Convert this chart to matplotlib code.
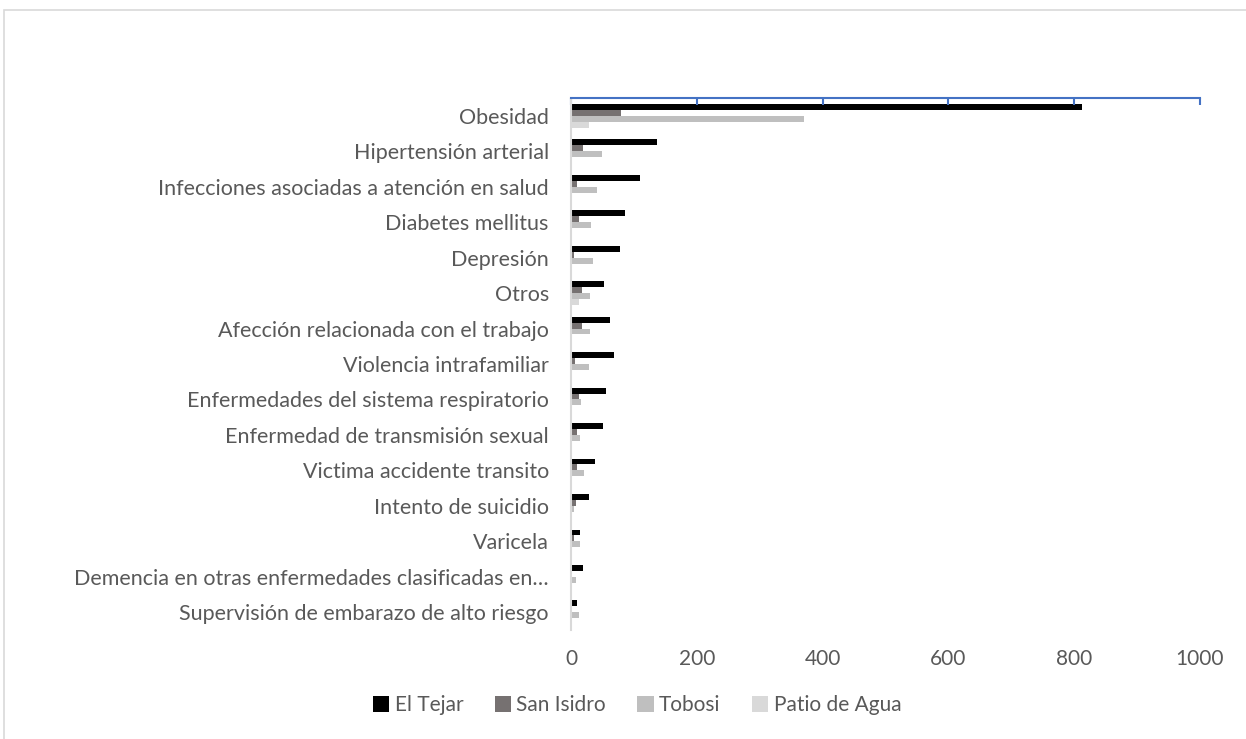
import matplotlib.pyplot as plt
import numpy as np
from matplotlib.patches import Rectangle

plt.rcParams['font.family'] = ['Lato', 'DejaVu Sans']

categorias = ['Obesidad', 'Hipertensión arterial', 'Infecciones asociadas a atención en salud',
              'Diabetes mellitus', 'Depresión', 'Otros', 'Afección relacionada con el trabajo',
              'Violencia intrafamiliar', 'Enfermedades del sistema respiratorio',
              'Enfermedad de transmisión sexual', 'Victima accidente transito',
              'Intento de suicidio', 'Varicela',
              'Demencia en otras enfermedades clasificadas en…',
              'Supervisión de embarazo de alto riesgo']

el_tejar = [813, 136, 110, 86, 78, 52, 62, 69, 55, 51, 38, 29, 14, 19, 9]
san_isidro = [80, 19, 10, 12, 5, 18, 18, 6, 13, 10, 9, 8, 4, 0, 2]
tobosi = [371, 50, 42, 32, 35, 30, 31, 29, 16, 15, 21, 5, 15, 8, 12]
patio_agua = [29, 0, 0, 0, 1, 12, 0, 0, 0, 0, 0, 0, 0, 0, 0]

series = [('El Tejar', el_tejar, '#000000'),
          ('San Isidro', san_isidro, '#767171'),
          ('Tobosi', tobosi, '#BFBFBF'),
          ('Patio de Agua', patio_agua, '#D9D9D9')]

gris_texto = '#595959'

fig = plt.figure(figsize=(12.46, 7.39), dpi=100)
ax = fig.add_axes([571/1246, 1-630/739, 629/1246, 532/739])

# borde del grafico
fig.patches.append(Rectangle((4/1246, -0.01), 1.1, 1-10/739+0.01, transform=fig.transFigure,
                             fill=False, edgecolor='#D9D9D9', lw=1.2))

y = np.arange(len(categorias))
alto = 1/1.5/4
for i, (nombre, vals, color) in enumerate(series):
    ax.barh(y - 1/3 + alto*(i+0.5), vals, height=alto, color=color, label=nombre)

ax.set_xlim(0, 1000)
ax.set_ylim(len(categorias)-0.5, -0.5)
ax.set_xticks(range(0, 1001, 200))
ax.set_yticks(y)
ax.set_yticklabels(categorias)

ax.spines['right'].set_visible(False)
ax.spines['bottom'].set_visible(False)
ax.spines['left'].set_color('#D9D9D9')
ax.spines['left'].set_linewidth(1.5)
ax.spines['top'].set_color('#4472C4')
ax.spines['top'].set_linewidth(1.5)

ax.tick_params(axis='y', length=0, labelsize=15.5, labelcolor=gris_texto, pad=16)
# ticks azules arriba, etiquetas abajo
ax.tick_params(axis='x', bottom=False, top=True, labelbottom=True, labeltop=False,
               direction='in', length=5, width=1.5, color='#4472C4',
               labelsize=15, labelcolor=gris_texto, pad=14)

ax.legend(loc='center', bbox_to_anchor=(0.105, -0.141), ncol=4, frameon=False,
          fontsize=15, labelcolor=gris_texto, handlelength=0.8, handleheight=0.8,
          handletextpad=0.25, columnspacing=1.5)

fig.savefig('out.png', dpi=100)
